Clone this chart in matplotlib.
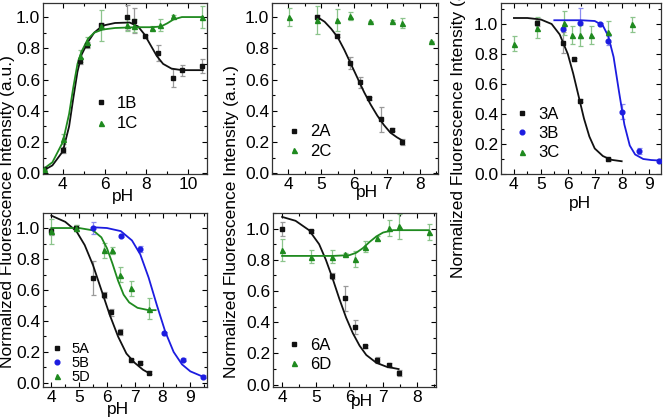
import numpy as np
import matplotlib
matplotlib.use('Agg')
import matplotlib.pyplot as plt
from matplotlib.ticker import MultipleLocator

plt.rcParams['font.family'] = ['Liberation Sans', 'DejaVu Sans']

# ---- panel 1 : 1B / 1C ----
ph_1b = [3.12, 4.0, 4.83, 5.15, 5.84, 7.07, 7.4, 7.95, 8.56, 9.28, 9.68, 10.64]
y_1b = [0.026, 0.15, 0.72, 0.82, 0.95, 1.0, 0.975, 0.876, 0.77, 0.61, 0.66, 0.685]
err_1b = [0.01, 0.02, 0.02, 0.02, 0.01, 0.08, 0.08, 0.01, 0.05, 0.06, 0.035, 0.045]
ph_1c = [3.12, 4.0, 4.83, 5.15, 5.84, 7.07, 7.4, 8.27, 8.64, 9.28, 10.64]
y_1c = [0.03, 0.22, 0.75, 0.84, 0.945, 0.95, 0.945, 0.93, 0.95, 1.005, 1.0]
err_1c = [0.01, 0.03, 0.04, 0.03, 0.1, 0.04, 0.04, 0.01, 0.04, 0.01, 0.07]
fit_1b_ph = [3.1, 3.5, 4.0, 4.3, 4.5, 4.7, 4.9, 5.2, 5.5, 5.9, 6.5, 7.2, 7.6, 7.9, 8.2, 8.5, 8.8, 9.2, 9.7, 10.7]
fit_1b_y = [0.02, 0.05, 0.14, 0.3, 0.48, 0.65, 0.76, 0.84, 0.9, 0.945, 0.962, 0.965, 0.94, 0.89, 0.82, 0.75, 0.7, 0.67, 0.66, 0.66]
fit_1c_ph = [3.1, 3.5, 4.0, 4.3, 4.5, 4.7, 4.9, 5.2, 5.5, 5.9, 6.5, 7.5, 8.3, 8.7, 9.0, 9.3, 9.7, 10.7]
fit_1c_y = [0.03, 0.07, 0.2, 0.38, 0.55, 0.7, 0.78, 0.86, 0.9, 0.92, 0.93, 0.935, 0.935, 0.94, 0.96, 0.985, 1.0, 1.0]

# ---- panel 2 : 2A / 2C ----
ph_2a = [4.88, 5.47, 5.87, 6.17, 6.45, 6.83, 7.16, 7.46]
y_2a = [1.0, 0.88, 0.705, 0.583, 0.48, 0.346, 0.278, 0.2]
err_2a = [0.01, 0.01, 0.04, 0.035, 0.01, 0.08, 0.01, 0.02]
ph_2c = [4.02, 4.88, 5.47, 5.87, 6.47, 7.16, 7.46, 8.34]
y_2c = [1.0, 0.983, 0.98, 1.008, 0.972, 0.976, 0.962, 0.844]
err_2c = [0.06, 0.09, 0.07, 0.025, 0.005, 0.005, 0.035, 0.005]
fit_2a_ph = [4.88, 5.1, 5.3, 5.5, 5.7, 5.9, 6.1, 6.3, 6.5, 6.7, 6.9, 7.1, 7.3, 7.5]
fit_2a_y = [1.0, 0.97, 0.925, 0.87, 0.79, 0.7, 0.61, 0.52, 0.44, 0.37, 0.31, 0.26, 0.23, 0.205]

# ---- panel 3 : 3A / 3B / 3C ----
ph_3a = [4.87, 5.81, 6.24, 6.46, 7.49]
y_3a = [1.01, 0.876, 0.764, 0.49, 0.1]
err_3a = [0.02, 0.07, 0.01, 0.01, 0.01]
ph_3b = [5.84, 6.46, 7.18, 7.49, 8.0, 8.65, 9.37]
y_3b = [0.967, 1.01, 1.0, 0.887, 0.416, 0.156, 0.089]
err_3b = [0.01, 0.1, 0.01, 0.03, 0.05, 0.02, 0.01]
ph_3c = [4.0, 4.87, 5.87, 6.17, 6.46, 6.85, 7.49, 8.38]
y_3c = [0.87, 0.975, 1.005, 0.93, 0.925, 0.925, 0.95, 1.0]
err_3c = [0.05, 0.07, 0.08, 0.06, 0.07, 0.06, 0.07, 0.05]
fit_3a_ph = [4.0, 4.5, 5.0, 5.4, 5.7, 6.0, 6.2, 6.4, 6.6, 6.8, 7.0, 7.3, 7.6, 8.0]
fit_3a_y = [1.04, 1.04, 1.03, 1.0, 0.93, 0.8, 0.67, 0.52, 0.37, 0.25, 0.17, 0.12, 0.095, 0.085]
fit_3b_ph = [5.5, 6.5, 7.0, 7.3, 7.5, 7.7, 7.9, 8.1, 8.3, 8.5, 8.8, 9.1, 9.4]
fit_3b_y = [1.025, 1.025, 1.02, 0.99, 0.92, 0.78, 0.55, 0.33, 0.19, 0.13, 0.1, 0.093, 0.09]

# ---- panel 4 : 5A / 5B / 5D ----
ph_5a = [4.0, 4.87, 5.5, 5.88, 6.16, 6.46, 6.87, 7.2, 7.53]
y_5a = [0.978, 1.0, 0.68, 0.57, 0.455, 0.33, 0.147, 0.13, 0.065]
err_5a = [0.02, 0.02, 0.11, 0.02, 0.02, 0.02, 0.01, 0.01, 0.01]
ph_5b = [5.5, 6.5, 7.2, 8.06, 8.72, 9.46]
y_5b = [1.0, 0.95, 0.866, 0.32, 0.15, 0.04]
err_5b = [0.04, 0.01, 0.02, 0.01, 0.01, 0.01]
ph_5d = [4.0, 4.87, 5.88, 6.18, 6.48, 6.88, 7.53]
y_5d = [0.98, 1.0, 0.855, 0.855, 0.7, 0.61, 0.48]
err_5d = [0.08, 0.02, 0.05, 0.02, 0.05, 0.05, 0.07]
fit_5a_ph = [4.0, 4.5, 4.9, 5.2, 5.5, 5.8, 6.1, 6.4, 6.7, 7.0, 7.3, 7.55]
fit_5a_y = [1.08, 1.04, 0.98, 0.89, 0.76, 0.6, 0.44, 0.3, 0.19, 0.13, 0.085, 0.06]
fit_5b_ph = [5.5, 6.0, 6.5, 6.9, 7.2, 7.5, 7.8, 8.1, 8.4, 8.7, 9.0, 9.46]
fit_5b_y = [1.005, 1.0, 0.98, 0.92, 0.83, 0.68, 0.5, 0.33, 0.2, 0.12, 0.075, 0.04]
fit_5d_ph = [4.0, 5.0, 5.5, 5.8, 6.0, 6.2, 6.4, 6.6, 6.8, 7.1, 7.5, 7.75]
fit_5d_y = [1.0, 1.0, 0.985, 0.94, 0.87, 0.77, 0.66, 0.57, 0.52, 0.485, 0.47, 0.47]

# ---- panel 5 : 6A / 6D ----
ph_6a = [4.0, 4.87, 5.47, 5.87, 6.17, 6.47, 6.83, 7.16, 7.46]
y_6a = [1.0, 0.983, 0.697, 0.553, 0.37, 0.245, 0.159, 0.129, 0.073]
err_6a = [0.045, 0.01, 0.02, 0.08, 0.045, 0.01, 0.02, 0.01, 0.02]
ph_6d = [4.0, 4.87, 5.47, 5.87, 6.17, 6.47, 6.83, 7.16, 7.46, 8.35]
y_6d = [0.865, 0.82, 0.82, 0.835, 0.805, 0.885, 0.94, 1.005, 1.015, 0.98]
err_6d = [0.07, 0.04, 0.04, 0.01, 0.05, 0.035, 0.01, 0.05, 0.08, 0.05]
fit_6a_ph = [4.0, 4.4, 4.8, 5.1, 5.3, 5.5, 5.7, 5.9, 6.1, 6.3, 6.5, 6.8, 7.1, 7.46]
fit_6a_y = [1.075, 1.05, 0.99, 0.9, 0.8, 0.68, 0.55, 0.43, 0.33, 0.25, 0.19, 0.14, 0.115, 0.1]
fit_6d_ph = [4.0, 5.5, 6.0, 6.2, 6.4, 6.6, 6.8, 7.0, 7.3, 8.35]
fit_6d_y = [0.825, 0.825, 0.83, 0.845, 0.875, 0.915, 0.95, 0.975, 0.99, 0.99]

BLACK = '#111111'
GREEN = '#1f8a1f'
BLUE = '#1c1ce0'
ERR = {BLACK: '#9a9a9a', GREEN: '#8cc48c', BLUE: '#8c8cf0'}

W, H = 666, 420
fig = plt.figure(figsize=(W / 100, H / 100), dpi=100)


def add_panel(left, top, right, bottom):
   # pixel box -> figure fraction
   return fig.add_axes([left / W, 1 - bottom / H, (right - left) / W, (bottom - top) / H])


def series(ax, ph, y, err, color, marker, ms, label):
   ax.errorbar(ph, y, yerr=err, fmt='none', ecolor=ERR[color], elinewidth=0.9, capsize=1.8, capthick=0.9, zorder=2)
   ax.plot(ph, y, linestyle='none', marker=marker, color=color, ms=ms, label=label, zorder=4)


def style(ax, xlim, ylim, xmaj, xmin, label_xy, leg_xy, leg_space, leg_size=12):
   ax.set_xlim(*xlim)
   ax.set_ylim(*ylim)
   ax.xaxis.set_major_locator(MultipleLocator(xmaj))
   ax.xaxis.set_minor_locator(MultipleLocator(xmin))
   ax.yaxis.set_major_locator(MultipleLocator(0.2))
   ax.yaxis.set_minor_locator(MultipleLocator(0.1))
   ax.yaxis.set_major_formatter(matplotlib.ticker.FormatStrFormatter('%.1f'))
   ax.tick_params(which='both', direction='in', top=True, right=True, labelsize=12.5, pad=2, width=0.8)
   ax.tick_params(which='major', length=3.5)
   ax.tick_params(which='minor', length=2)
   for s in ax.spines.values():
      s.set_linewidth(0.9)
      s.set_color('#333333')
   # pH sits between the tick labels in the original figure
   ax.set_xlabel('pH', fontsize=12.5)
   ax.xaxis.set_label_coords(*label_xy)
   ax.xaxis.label.set_va('center')
   ax.legend(loc='center left', bbox_to_anchor=leg_xy, frameon=False, fontsize=leg_size,
             handlelength=0.8, handletextpad=0.6, borderpad=0, borderaxespad=0,
             labelspacing=leg_space)


# panel 1
ax1 = add_panel(43, 3, 207, 174)
series(ax1, ph_1b, y_1b, err_1b, BLACK, 's', 3.2, '1B')
series(ax1, ph_1c, y_1c, err_1c, GREEN, '^', 3.6, '1C')
ax1.plot(fit_1b_ph, fit_1b_y, color=BLACK, lw=1.3, zorder=3)
ax1.plot(fit_1c_ph, fit_1c_y, color=GREEN, lw=1.3, zorder=3)
style(ax1, (3.05, 10.9), (-0.005, 1.09), 2, 1, (0.488, -0.134), (0.31, 0.354), 0.35)

# panel 2
ax2 = add_panel(272, 3, 438, 174)
series(ax2, ph_2a, y_2a, err_2a, BLACK, 's', 3.2, '2A')
series(ax2, ph_2c, y_2c, err_2c, GREEN, '^', 3.6, '2C')
ax2.plot(fit_2a_ph, fit_2a_y, color=BLACK, lw=1.3, zorder=3)
style(ax2, (3.5, 8.55), (-0.005, 1.09), 1, 0.5, (0.572, -0.111), (0.09, 0.19), 0.25)

# panel 3
ax3 = add_panel(501, 3, 661, 174)
series(ax3, ph_3a, y_3a, err_3a, BLACK, 's', 3.2, '3A')
series(ax3, ph_3b, y_3b, err_3b, BLUE, 'o', 3.4, '3B')
series(ax3, ph_3c, y_3c, err_3c, GREEN, '^', 3.6, '3C')
ax3.plot(fit_3a_ph, fit_3a_y, color=BLACK, lw=1.3, zorder=3)
ax3.plot(fit_3b_ph, fit_3b_y, color=BLUE, lw=1.3, zorder=3)
style(ax3, (3.52, 9.46), (0.0, 1.14), 1, 0.5, (0.494, -0.17), (0.09, 0.235), 0.25)

# panel 4
ax4 = add_panel(43, 213, 207, 387)
series(ax4, ph_5a, y_5a, err_5a, BLACK, 's', 3.2, '5A')
series(ax4, ph_5b, y_5b, err_5b, BLUE, 'o', 3.4, '5B')
series(ax4, ph_5d, y_5d, err_5d, GREEN, '^', 3.6, '5D')
ax4.plot(fit_5a_ph, fit_5a_y, color=BLACK, lw=1.3, zorder=3)
ax4.plot(fit_5b_ph, fit_5b_y, color=BLUE, lw=1.3, zorder=3)
ax4.plot(fit_5d_ph, fit_5d_y, color=GREEN, lw=1.3, zorder=3)
style(ax4, (3.7, 9.6), (-0.026, 1.097), 1, 0.5, (0.457, -0.132), (0.05, 0.14), 0.0, 10.5)

# panel 5
ax5 = add_panel(273, 213, 436, 387)
series(ax5, ph_6a, y_6a, err_6a, BLACK, 's', 3.2, '6A')
series(ax5, ph_6d, y_6d, err_6d, GREEN, '^', 3.6, '6D')
ax5.plot(fit_6a_ph, fit_6a_y, color=BLACK, lw=1.3, zorder=3)
ax5.plot(fit_6d_ph, fit_6d_y, color=GREEN, lw=1.3, zorder=3)
style(ax5, (3.73, 8.57), (-0.015, 1.1), 1, 0.5, (0.546, -0.086), (0.085, 0.185), 0.25)

# shared y labels
ylab = 'Normalized Fluorescence Intensity (a.u.)'
fig.text(8 / W, 1 - 212 / H, ylab, rotation=90, ha='center', va='center', fontsize=12.5)
fig.text(232 / W, 1 - 222 / H, ylab, rotation=90, ha='center', va='center', fontsize=12.5)
fig.text(459 / W, 1 - 122 / H, ylab, rotation=90, ha='center', va='center', fontsize=12.5)

fig.savefig('out.png', dpi=100)
